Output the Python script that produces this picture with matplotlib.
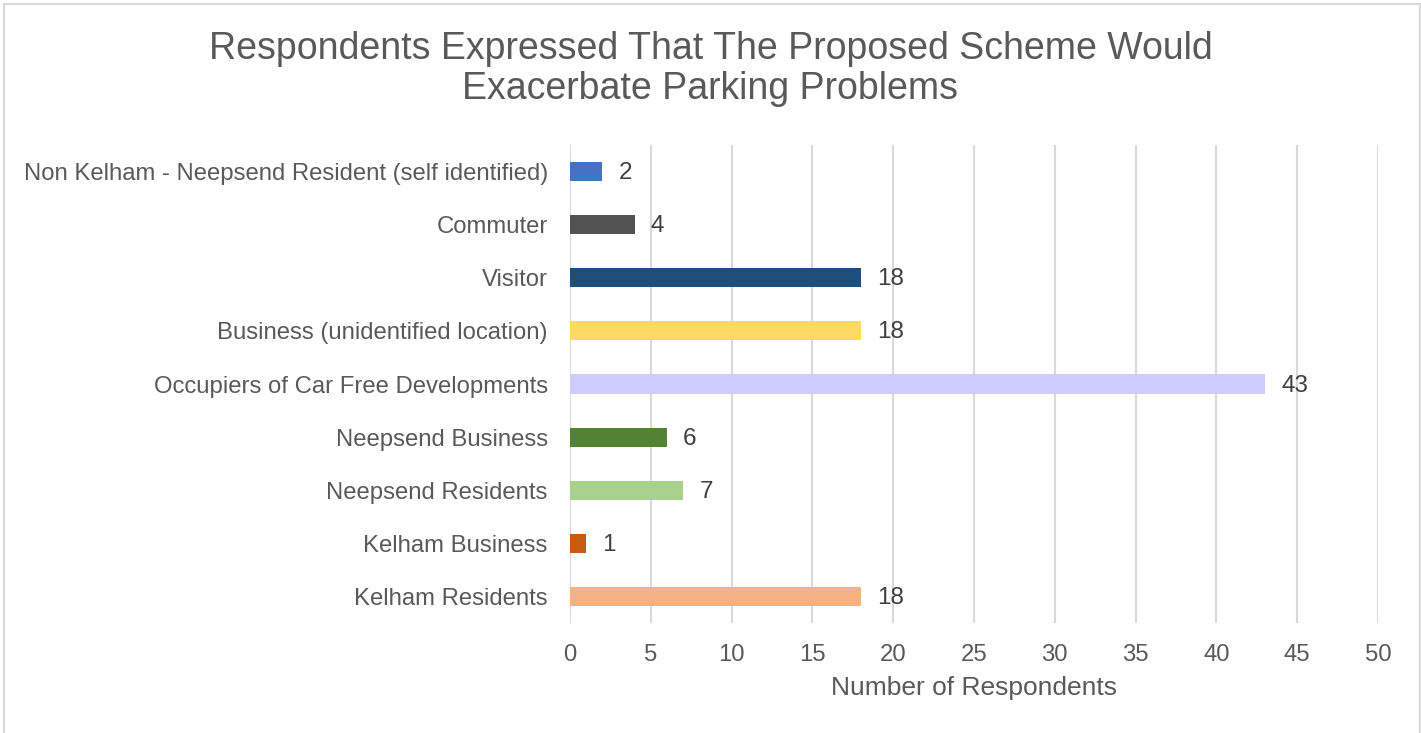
import matplotlib.pyplot as plt
from matplotlib.patches import Rectangle

# data, bottom to top as in the chart
categories = ["Kelham Residents", "Kelham Business", "Neepsend Residents",
              "Neepsend Business", "Occupiers of Car Free Developments",
              "Business (unidentified location)", "Visitor", "Commuter",
              "Non Kelham - Neepsend Resident (self identified)"]
values = [18, 1, 7, 6, 43, 18, 18, 4, 2]
colors = ["#f4b183", "#c55a11", "#a9d18e", "#548235", "#ccccff",
          "#ffd966", "#1f4e79", "#525252", "#4472c4"]
xticks = [0, 5, 10, 15, 20, 25, 30, 35, 40, 45, 50]

plt.rcParams['font.family'] = ['Liberation Sans', 'DejaVu Sans']
txt = "#595959"

fig = plt.figure(figsize=(14.21, 7.33), dpi=100)
ax = fig.add_axes([570/1421, 1 - 623/733, (1378 - 570)/1421, (623 - 145)/733])

ypos = range(len(categories))
ax.barh(ypos, values, height=0.36, color=colors, zorder=3)
for y, v in zip(ypos, values):
    ax.text(v + 1, y - 0.03, str(v), va="center", ha="left", fontsize=17.5, color="#404040")

ax.set_xlim(0, 50)
ax.set_ylim(-0.5, len(categories) - 0.5)
ax.set_xticks(xticks)
ax.set_yticks(list(ypos))
ax.set_yticklabels(categories)
ax.tick_params(axis="both", length=0, labelsize=17.2, labelcolor=txt)
ax.tick_params(axis="x", pad=15)
ax.tick_params(axis="y", pad=16)
ax.grid(axis="x", color="#d9d9d9", linewidth=1.5, zorder=0)
for s in ax.spines.values():
    s.set_visible(False)
ax.set_xlabel("Number of Respondents", fontsize=19, color=txt, labelpad=7)

fig.text(0.5, 1 - 69/733, "Respondents Expressed That The Proposed Scheme Would\nExacerbate Parking Problems",
         ha="center", va="center", fontsize=27, color=txt, linespacing=1.15)

# chart border
fig.patches.append(Rectangle((4/1421, -0.02), (1420 - 4)/1421, 1.02 - 4/733,
                             transform=fig.transFigure, fill=False,
                             edgecolor="#d9d9d9", linewidth=1.5))

fig.savefig("out.png", dpi=100)
